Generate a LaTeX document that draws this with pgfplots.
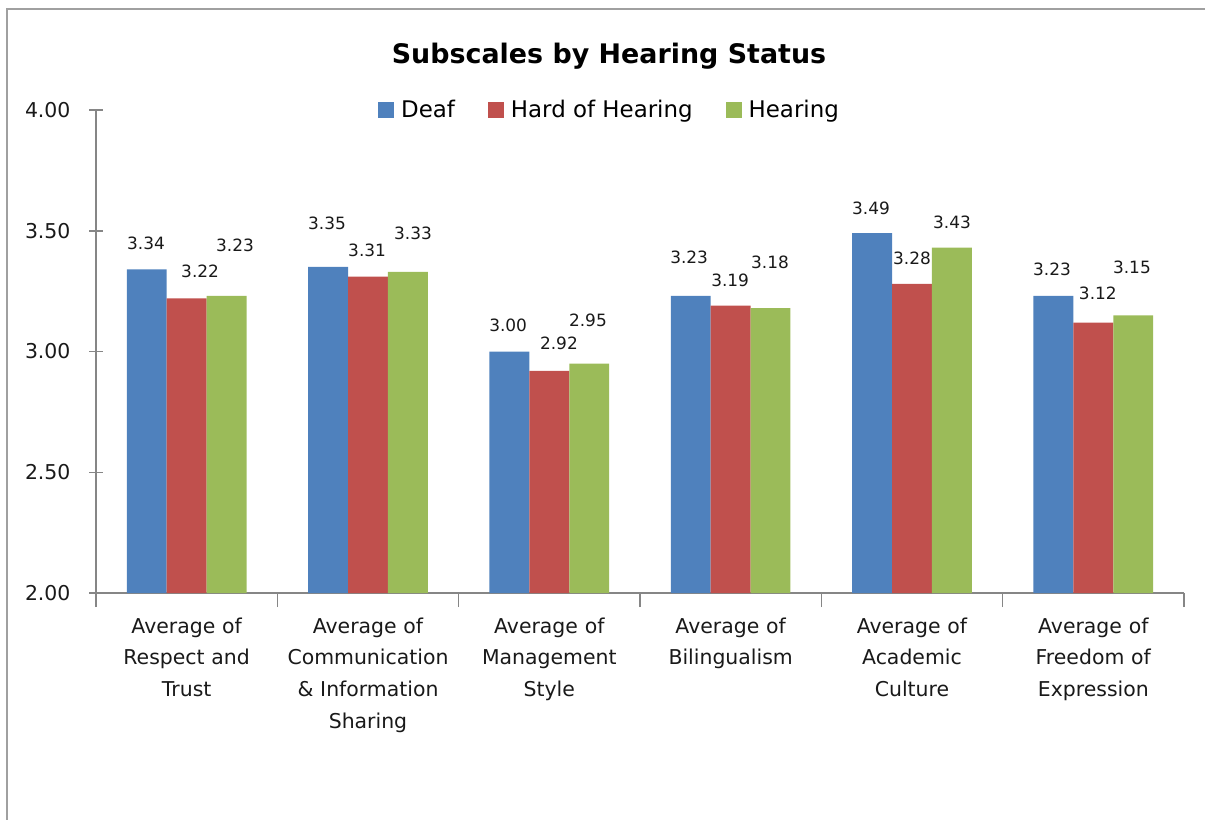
\documentclass[border=0pt]{standalone}
\usepackage{fontspec}
\setmainfont{DejaVu Sans}
\usepackage{pgfplots}
\pgfplotsset{compat=1.18}

\definecolor{deafblue}{RGB}{79,129,189}
\definecolor{hohred}{RGB}{192,80,77}
\definecolor{hearinggreen}{RGB}{155,187,89}
\definecolor{axisgray}{RGB}{134,134,134}
\definecolor{framegray}{RGB}{160,160,160}

\begin{document}
\begin{tikzpicture}
\useasboundingbox (0,0) rectangle (1205bp,-820bp);
\draw[framegray, line width=1.5bp] (7bp,-820bp) -- (7bp,-9bp) -- (1205bp,-9bp);

\node[font=\fontsize{27}{32}\selectfont\bfseries, anchor=base] at (609bp,-63bp) {Subscales by Hearing Status};

\begin{axis}[
  at={(96bp,-593bp)}, anchor=south west,
  width=1088bp, height=483bp, scale only axis,
  xmin=-0.5, xmax=5.5, ymin=2, ymax=4,
  axis x line*=bottom, axis y line*=left,
  axis line style={draw=axisgray, line width=1.5bp, -},
  xtick={-0.5,0.5,...,5.5},
  x tick label as interval,
  xticklabels={
    {Average of\\Respect and\\Trust},
    {Average of\\Communication\\\& Information\\Sharing},
    {Average of\\Management\\Style},
    {Average of\\Bilingualism},
    {Average of\\Academic\\Culture},
    {Average of\\Freedom of\\Expression}},
  ytick={2,2.5,3,3.5,4},
  yticklabel style={/pgf/number format/fixed, /pgf/number format/fixed zerofill,
    /pgf/number format/precision=2, /pgf/number format/assume math mode=true,
    font=\fontsize{20.5}{24}\selectfont, text=black!90, xshift=-15bp},
  xtick align=outside, ytick align=center,
  major tick length=14bp,
  tick style={draw=axisgray, line width=1.5bp},
  xticklabel style={font=\fontsize{20.5}{32}\selectfont, align=center, text width=175bp,
    text=black!90, yshift=-7bp},
  every node near coord/.append style={anchor=center, font=\fontsize{17}{20}\selectfont, text=black!90},
  legend columns=3,
  legend style={draw=none, fill=none, at={(0.2564,1.0)}, anchor=west,
    font=\fontsize{23}{26}\selectfont,
    /tikz/every odd column/.append style={column sep=5bp},
    /tikz/every even column/.append style={column sep=31bp}},
  legend image code/.code={\fill[#1] (0bp,-8bp) rectangle (16bp,8bp);},
]
\addplot[ybar, bar width=0.22, bar shift=-0.22, fill=deafblue, draw=none]
  coordinates {(0,3.34) (1,3.35) (2,3.00) (3,3.23) (4,3.49) (5,3.23)};
\addlegendentry{Deaf}
\addplot[ybar, bar width=0.22, bar shift=0, fill=hohred, draw=none]
  coordinates {(0,3.22) (1,3.31) (2,2.92) (3,3.19) (4,3.28) (5,3.12)};
\addlegendentry{Hard of Hearing}
\addplot[ybar, bar width=0.22, bar shift=0.22, fill=hearinggreen, draw=none]
  coordinates {(0,3.23) (1,3.33) (2,2.95) (3,3.18) (4,3.43) (5,3.15)};
\addlegendentry{Hearing}

% data labels, placed where Excel put them
\addplot[forget plot, only marks, mark=*, mark size=0pt, mark options={draw=none, fill=none},
  nodes near coords, point meta=explicit symbolic]
  coordinates {
    (-0.224,3.449) [3.34] (0.774,3.532) [3.35] (1.773,3.110) [3.00]
    (2.771,3.391) [3.23] (3.774,3.594) [3.49] (4.772,3.342) [3.23]
    (0.074,3.333) [3.22] (0.995,3.420) [3.31] (2.053,3.035) [2.92]
    (2.997,3.296) [3.19] (4.000,3.387) [3.28] (5.025,3.242) [3.12]
    (0.267,3.441) [3.23] (1.248,3.491) [3.33] (2.213,3.130) [2.95]
    (3.217,3.371) [3.18] (4.221,3.536) [3.43] (5.213,3.350) [3.15]
  };
\end{axis}
\end{tikzpicture}
\end{document}
